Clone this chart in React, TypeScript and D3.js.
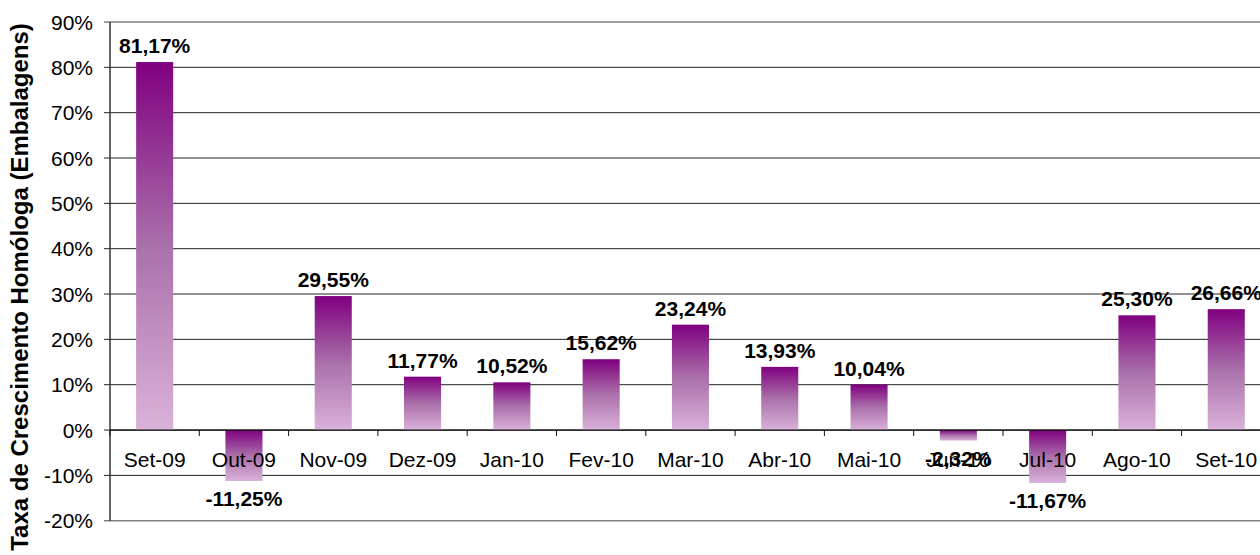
import React from "react";
import * as d3 from "d3";

const categories = ["Set-09", "Out-09", "Nov-09", "Dez-09", "Jan-10", "Fev-10", "Mar-10", "Abr-10", "Mai-10", "Jun-10", "Jul-10", "Ago-10", "Set-10"];
const values = [81.17, -11.25, 29.55, 11.77, 10.52, 15.62, 23.24, 13.93, 10.04, -2.32, -11.67, 25.30, 26.66];
const yTicks = [-20, -10, 0, 10, 20, 30, 40, 50, 60, 70, 80, 90];
const yTitle = "Taxa de Crescimento Homóloga (Embalagens)";

const W = 1260;
const H = 555;
const left = 110;
const bandW = 89.3;
const font = "Liberation Sans, Arial, sans-serif";

export default function App() {
  const y = d3.scaleLinear().domain([-20, 90]).range([520.7, 22]);
  const x = d3.scaleBand<string>().domain(categories).range([left, left + bandW * categories.length]).paddingInner(0.585).paddingOuter(0.2925);
  const fmt = (v: number) => v.toFixed(2).replace(".", ",") + "%";
  const y0 = y(0);
  return (
    <svg width={W} height={H} style={{ position: "absolute", left: 0, top: 0, background: "#fff" }} fontFamily={font}>
      <defs>
        <linearGradient id="barGrad" x1="0" y1="0" x2="0" y2="1">
          <stop offset="0%" stopColor="#800080" />
          <stop offset="50%" stopColor="#AA70AA" />
          <stop offset="100%" stopColor="#DAB2DA" />
        </linearGradient>
      </defs>
      {yTicks.map((t) => (
        <g key={t}>
          <line x1={left - 6} x2={W} y1={y(t)} y2={y(t)} stroke={t === 90 || t === -20 ? "#808080" : "#222"} strokeWidth={t === 90 || t === -20 ? 1.5 : 1} />
          <text x={93} y={y(t)} dy="0.36em" textAnchor="end" fontSize={21} fill="#000">{t}%</text>
        </g>
      ))}
      {values.map((v, i) => {
        const c = categories[i];
        const yt = y(Math.max(0, v));
        const yb = y(Math.min(0, v));
        return (
          <rect key={c} x={x(c)} y={yt} width={x.bandwidth()} height={yb - yt} fill="url(#barGrad)" />
        );
      })}
      <line x1={left} x2={left} y1={y(90)} y2={y(-20)} stroke="#333" strokeWidth={1.5} />
      <line x1={left} x2={W} y1={y0} y2={y0} stroke="#111" strokeWidth={1.2} />
      {categories.map((c, i) => (
        <line key={c} x1={left + bandW * i} x2={left + bandW * i} y1={y0} y2={y0 + 6} stroke="#111" />
      ))}
      {categories.map((c) => (
        <text key={c} x={(x(c) as number) + x.bandwidth() / 2} y={y0 + 37} textAnchor="middle" fontSize={21} fill="#000">{c}</text>
      ))}
      {values.map((v, i) => {
        const c = categories[i];
        const cx = (x(c) as number) + x.bandwidth() / 2;
        const ly = v >= 0 ? y(v) - 9 : y(v) + 25;
        return (
          <text key={c} x={cx} y={ly} textAnchor="middle" fontSize={21} fontWeight="bold" fill="#000">{fmt(v)}</text>
        );
      })}
      <text transform={`translate(28,287) rotate(-90)`} textAnchor="middle" fontSize={24} fontWeight="bold" fill="#000">{yTitle}</text>
    </svg>
  );
}
